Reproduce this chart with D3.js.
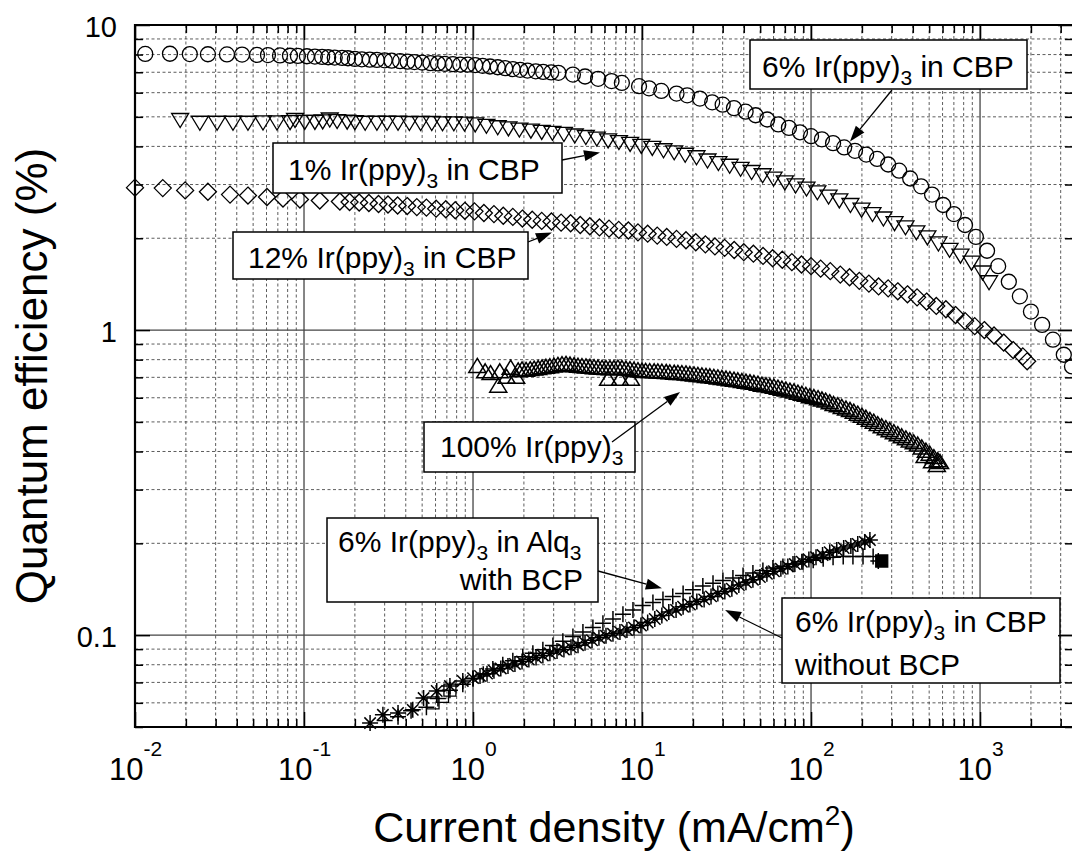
<!DOCTYPE html>
<html><head><meta charset="utf-8">
<script src="https://cdn.jsdelivr.net/npm/d3@7"></script>
<style>
body{margin:0;background:#fff}
svg{display:block}
text{font-family:"Liberation Sans",Arial,Helvetica,sans-serif;fill:#000;white-space:pre}
</style>
</head><body>
<svg id="c" width="1072" height="854"></svg>
<script>
// ---------- tick labels ----------
const xExponents = ["-2", "-1", "0", "1", "2", "3"];
const xMajorValues = [0.01, 0.1, 1, 10, 100, 1000];
const yTickValues = [0.1, 1, 10];
const yTickLabels = ["0.1", "1", "10"];
const xTitle = "Current density (mA/cm";
const yTitle = "Quantum efficiency (%)";

// ---------- series: [current density mA/cm2, quantum efficiency %] ----------
const cbp6 = [
 [0.0115,8.04],[0.0161,8.05],[0.0211,8.03],[0.027,8.02],[0.035,8.01],[0.043,8.0],[0.0527,7.98],[0.0612,7.97],
 [0.0721,7.95],[0.0826,7.93],[0.092,7.92],[0.104,7.9],[0.116,7.88],[0.128,7.86],[0.139,7.84],[0.152,7.82],
 [0.168,7.8],[0.182,7.78],[0.2,7.74],
 [0.22,7.72],[0.245,7.70],[0.27,7.68],[0.30,7.66],[0.33,7.64],[0.37,7.61],[0.41,7.58],[0.45,7.56],[0.50,7.53],
 [0.56,7.50],[0.62,7.48],[0.68,7.46],[0.76,7.44],[0.84,7.42],[0.93,7.41],[1.03,7.39],[1.14,7.35],[1.26,7.31],
 [1.40,7.27],[1.55,7.22],[1.72,7.17],[1.90,7.13],[2.1,7.09],[2.35,7.05],[2.6,7.02],[2.9,6.99],[3.2,6.97],
 [3.9,6.88],[4.6,6.78],[5.5,6.66],[6.6,6.55],[7.6,6.46],[9.6,6.30],[11,6.20],[13,6.08],[16,5.96],[18.5,5.88],[22,5.74],
 [26,5.58],[30,5.48],[35,5.34],[41,5.20],[47,5.06],[55,4.90],[64,4.72],[74,4.60],[86,4.45],[100,4.32],[116,4.22],
 [135,4.10],[157,3.97],[182,3.87],[212,3.76],[246,3.64],[286,3.49],[332,3.33],[386,3.14],[448,2.96],[520,2.78],
 [605,2.57],[700,2.40],[815,2.21],[945,2.02],[1100,1.82],[1280,1.62],[1480,1.44],[1720,1.29],[2000,1.15],
 [2330,1.04],[2700,0.93],[3130,0.83],[3500,0.76]
];
const cbp1 = [
 [0.0185,4.90],[0.0242,4.80],[0.0306,4.80],[0.038,4.80],[0.0466,4.80],[0.0572,4.81],[0.0692,4.81],[0.0827,4.82],
 [0.0885,4.90],[0.101,4.83],[0.116,4.83],[0.129,4.85],[0.142,4.92],[0.157,4.86],[0.18,4.84],[0.2,4.82],
 [0.23,4.80],[0.27,4.80],[0.31,4.80],[0.36,4.80],[0.42,4.79],[0.49,4.79],[0.57,4.79],[0.66,4.78],[0.77,4.78],
 [0.89,4.77],[1.03,4.74],[1.2,4.69],[1.4,4.64],[1.62,4.60],[1.88,4.56],[2.2,4.52],[2.55,4.48],[2.95,4.45],
 [3.45,4.41],[4.0,4.36],[4.65,4.31],[5.4,4.26],[6.3,4.20],[7.3,4.15],[8.5,4.09],[9.9,4.03],[11.5,3.97],
 [13.4,3.90],[15.5,3.84],[18,3.77],[21,3.70],[24.4,3.61],[28.3,3.54],[33,3.47],[38.3,3.39],[44.5,3.31],
 [51.7,3.23],[60,3.15],[70,3.06],[81,2.99],[94,2.92],[109,2.84],[127,2.75],[147,2.67],[171,2.58],[199,2.49],
 [231,2.41],[268,2.33],[312,2.25],[362,2.18],[420,2.10],[488,2.02],[567,1.93],[660,1.84],[766,1.76],
 [890,1.67],[1035,1.55],[1130,1.44]
];
const cbp12 = [
 [0.0100,2.93],[0.0146,2.92],[0.0198,2.87],[0.027,2.84],[0.0365,2.78],[0.0466,2.76],[0.0604,2.73],[0.0751,2.70],
 [0.0946,2.68],[0.124,2.66],[0.163,2.64],
 [0.186,2.63],[0.212,2.62],[0.242,2.61],[0.276,2.59],[0.314,2.58],[0.358,2.56],[0.408,2.55],[0.465,2.53],
 [0.53,2.52],[0.605,2.50],[0.69,2.49],[0.785,2.47],[0.895,2.46],[1.02,2.45],[1.16,2.42],[1.33,2.40],[1.51,2.37],
 [1.72,2.35],[1.96,2.32],[2.24,2.30],[2.55,2.28],[2.91,2.27],[3.32,2.25],[3.78,2.24],[4.31,2.21],[4.91,2.19],
 [5.6,2.17],[6.38,2.15],[7.28,2.13],[8.3,2.12],[9.46,2.09],[10.8,2.07],[12.3,2.04],[14.0,2.02],[16.0,1.99],
 [18.2,1.97],[20.8,1.94],[23.7,1.91],[27.0,1.88],[30.8,1.86],[35.1,1.83],[40.0,1.80],[45.6,1.78],[52.0,1.75],
 [59.3,1.72],[67.6,1.70],[77.0,1.67],[87.8,1.64],[100,1.62],[114,1.59],[130,1.56],[149,1.52],[169,1.49],
 [193,1.45],[220,1.42],[251,1.39],[286,1.37],[326,1.34],[372,1.31],[424,1.28],[483,1.24],[551,1.20],
 [628,1.17],[716,1.12],[816,1.07],[930,1.03],[1060,1.00],[1210,0.96],[1380,0.91],[1570,0.86],[1790,0.82],[1900,0.79]
];
const neat100 = [
 [1.06,0.76],[1.18,0.73],[1.27,0.72],[1.41,0.655],[1.44,0.73],[1.58,0.70],[1.67,0.75],[1.80,0.70],
 [1.85,0.735],[1.95,0.74],[2.06,0.738],[2.18,0.742],[2.30,0.745],[2.43,0.748],[2.56,0.752],[2.70,0.755],
 [2.85,0.758],[3.01,0.762],[3.18,0.766],[3.36,0.770],[3.55,0.772],[3.75,0.768],[3.96,0.764],[4.18,0.761],
 [4.41,0.759],[4.66,0.757],[4.92,0.755],[5.20,0.753],[5.49,0.751],[5.80,0.749],[6.12,0.748],[6.46,0.747],
 [6.82,0.748],[7.20,0.750],[7.61,0.748],[8.03,0.745],[8.48,0.742],[8.96,0.739],[9.46,0.736],[9.99,0.733],
 [10.5,0.732],[11.1,0.731],[11.8,0.730],[12.4,0.729],[13.1,0.728],[13.9,0.726],[14.6,0.724],[15.5,0.722],
 [16.3,0.721],[17.2,0.720],[18.2,0.718],[19.2,0.715],[20.3,0.713],[21.4,0.710],[22.6,0.708],[23.9,0.705],
 [25.2,0.703],[26.6,0.700],[28.1,0.697],[29.7,0.694],[31.4,0.691],[33.1,0.688],[35.0,0.685],[36.9,0.682],
 [39.0,0.678],[41.2,0.675],[43.5,0.672],[45.9,0.669],[48.5,0.665],[51.2,0.660],[54.1,0.657],[57.1,0.653],
 [60.3,0.650],[63.7,0.645],[67.2,0.640],[71.0,0.636],[75.0,0.631],[79.2,0.627],[83.6,0.621],[88.3,0.616],
 [93.2,0.611],[98.4,0.605],[104,0.601],[110,0.596],[116,0.590],[122,0.585],[129,0.578],[136,0.570],
 [144,0.565],[152,0.558],[161,0.551],[170,0.545],[179,0.538],[189,0.530],[200,0.522],[211,0.514],
 [223,0.506],[235,0.499],[248,0.490],[262,0.482],[277,0.475],[292,0.468],[309,0.461],[326,0.454],
 [344,0.447],[364,0.440],[384,0.433],[405,0.427],[428,0.420],[452,0.411],[478,0.401],[504,0.392],
 [533,0.382],[562,0.373],[580,0.368],
 [6.3,0.69],[7.4,0.69],[8.6,0.69],[470,0.385],[520,0.37],[555,0.36]
];
const cbpNoBcp = [
 [0.246,0.0515],[0.293,0.0548],[0.36,0.0556],[0.44,0.0569],[0.51,0.0622],[0.61,0.0656],[0.73,0.0681],
 [0.87,0.0708],[1.0,0.0723],[1.10,0.0735],[1.21,0.0748],[1.33,0.0765],[1.46,0.0778],[1.61,0.0792],
 [1.77,0.0805],[1.95,0.0820],[2.14,0.0832],[2.36,0.0845],[2.59,0.0858],[2.85,0.0872],[3.14,0.0887],
 [3.45,0.0898],[3.80,0.0912],[4.18,0.0927],[4.60,0.0945],[5.06,0.0962],[5.56,0.0980],[6.12,0.0995],
 [6.73,0.101],[7.40,0.1025],[8.14,0.104],[8.96,0.106],[9.85,0.1075],[10.8,0.110],[11.9,0.113],[13.1,0.116],
 [14.4,0.119],[15.9,0.121],[17.5,0.124],[19.2,0.126],[21.1,0.129],[23.3,0.131],[25.6,0.134],[28.1,0.137],
 [30.9,0.139],[34.0,0.142],[37.4,0.146],[41.2,0.149],[45.3,0.152],[49.8,0.155],[54.8,0.159],[60.3,0.162],
 [66.3,0.165],[72.9,0.168],[80.2,0.171],[88.2,0.174],[97.1,0.177],[107,0.180],[117,0.183],[129,0.187],
 [142,0.190],[156,0.193],[172,0.196],[189,0.199],[208,0.202],[223,0.205]
];
const alq3Bcp = [
 [0.30,0.0525],[0.36,0.054],[0.43,0.0565],[0.53,0.058],[0.62,0.062],[0.73,0.066],[0.87,0.069],[1.0,0.072],
 [1.15,0.0745],[1.31,0.0775],[1.5,0.0800],[1.72,0.0825],[1.97,0.085],[2.26,0.0872],[2.59,0.0895],[2.97,0.0925],
 [3.40,0.0955],[3.90,0.0990],[4.47,0.1025],[5.12,0.106],[5.87,0.1095],[6.73,0.113],[7.71,0.117],[8.84,0.121],
 [10.1,0.125],[11.6,0.128],[13.3,0.131],[15.2,0.134],[17.5,0.137],[20.0,0.141],[22.9,0.145],[26.3,0.148],
 [30.1,0.151],[34.5,0.154],[39.6,0.157],[45.3,0.160],[51.9,0.163],[59.5,0.166],[68.2,0.168],[78.2,0.171],
 [89.6,0.174],[103,0.176],[118,0.178],[135,0.180],[155,0.181],[177,0.181],[203,0.181],[233,0.181],[250,0.175]
];
const alq3Squares = [[0.58,0.060],[0.66,0.063],[0.73,0.066]];
const alq3End = [[262,0.175]];

// ---------- annotations (arrow tips in data units) ----------
const notes = [
 {lines:[["6% Ir(ppy)","3"," in CBP"]], box:[750,40,277,49], text:[[762,77,"start"]], from:[892,90], tip:[170,4.15]},
 {lines:[["1% Ir(ppy)","3"," in CBP"]], box:[273,143,289,50], text:[[288,180,"start"]], from:[562,160], tip:[5.64,3.82]},
 {lines:[["12% Ir(ppy)","3"," in CBP"]], box:[233,232,295,47], text:[[248,268,"start"]], from:[528,242], tip:[2.93,2.09]},
 {lines:[["100% Ir(ppy)","3",""]], box:[424,422,211,50], text:[[440,457,"start"]], from:[612,442], tip:[16.8,0.627]},
 {lines:[["6% Ir(ppy)","3"," in Alq","3"],["with BCP"]], box:[327,518,271,84], text:[[338,552,"start"],[583,590,"end"]], from:[598,571], tip:[13.1,0.1425]},
 {lines:[["6% Ir(ppy)","3"," in CBP"],["without BCP"]], box:[782,598,278,85], text:[[795,632,"start"],[795,675,"start"]], from:[782,638], tip:[31,0.121]}
];

// ---------- scales ----------
const svg = d3.select("#c");
const L = 135, R = 1073, T = 25, B = 727;
const x = d3.scaleLog().domain([0.01, 3548]).range([L, R]);
const y = d3.scaleLog().domain([0.05, 10]).range([B, T]);

const xMinor = [], yMinor = [];
for (let d = -2; d <= 3; d++) for (let m = 2; m <= 9; m++) { const v = m * Math.pow(10, d); if (v < 3548) xMinor.push(v); }
for (let d = -2; d <= 0; d++) for (let m = 2; m <= 9; m++) { const v = m * Math.pow(10, d); if (v >= 0.05 && v < 10) yMinor.push(v); }
const xMajorGrid = xMajorValues.slice(1), yMajorGrid = [0.1, 1];

// ---------- grid ----------
const grid = svg.append("g");
grid.selectAll(".vx").data(xMinor).join("line")
  .attr("x1", d => x(d)).attr("x2", d => x(d)).attr("y1", T).attr("y2", B)
  .attr("stroke", "#333").attr("stroke-width", 0.8).attr("stroke-dasharray", "3,2.5");
grid.selectAll(".hy").data(yMinor).join("line")
  .attr("y1", d => y(d)).attr("y2", d => y(d)).attr("x1", L).attr("x2", R)
  .attr("stroke", "#333").attr("stroke-width", 0.8).attr("stroke-dasharray", "3,2.5");
grid.selectAll(".vX").data(xMajorGrid).join("line")
  .attr("x1", d => x(d)).attr("x2", d => x(d)).attr("y1", T).attr("y2", B)
  .attr("stroke", "#444").attr("stroke-width", 1.3);
grid.selectAll(".hY").data(yMajorGrid).join("line")
  .attr("y1", d => y(d)).attr("y2", d => y(d)).attr("x1", L).attr("x2", R)
  .attr("stroke", "#444").attr("stroke-width", 1.3);

// ---------- markers ----------
const shapes = {
  circle: "M7.5,0A7.5,7.5 0 1 1 -7.5,0A7.5,7.5 0 1 1 7.5,0Z",
  tdown: "M-8.5,-6L8.5,-6L0,8Z",
  tup: "M0,-8L8.5,6L-8.5,6Z",
  diamond: "M0,-8.5L8.5,0L0,8.5L-8.5,0Z",
  star: "M-8,0H8M0,-8V8M-5.7,-5.7L5.7,5.7M-5.7,5.7L5.7,-5.7",
  plus: "M-8,0H8M0,-8V8",
  square: "M-6,-6H6V6H-6Z"
};
function plot(data, shape, fill, sw) {
  svg.append("g").selectAll("path").data(data).join("path")
    .attr("transform", d => `translate(${x(d[0])},${y(d[1])})`)
    .attr("d", shapes[shape])
    .attr("fill", fill || "none").attr("stroke", "#000").attr("stroke-width", sw || 1.3);
}
plot(cbp6, "circle");
plot(cbp1, "tdown");
plot(cbp12, "diamond");
plot(neat100, "tup", null, 1.5);
plot(alq3Bcp, "plus", null, 1.5);
plot(alq3Squares, "square");
plot(cbpNoBcp, "star", null, 1.5);
plot(alq3End, "square", "#000");

// ---------- annotations ----------
const ann = svg.append("g");
notes.forEach(n => {
  ann.append("rect").attr("x", n.box[0]).attr("y", n.box[1]).attr("width", n.box[2]).attr("height", n.box[3])
    .attr("fill", "#fff").attr("stroke", "#000").attr("stroke-width", 1.5);
  n.lines.forEach((ln, i) => {
    const [tx, ty, anchor] = n.text[i];
    const t = ann.append("text").attr("x", tx).attr("y", ty).attr("text-anchor", anchor).attr("font-size", 30);
    ln.forEach((s, j) => {
      const sub = j % 2 === 1;
      const sp = t.append("tspan").text(s);
      if (sub) sp.attr("font-size", 21).attr("dy", 8);
      else if (j > 0) sp.attr("dy", -8);
    });
  });
  const x1 = n.from[0], y1 = n.from[1], x2 = x(n.tip[0]), y2 = y(n.tip[1]);
  const a = Math.atan2(y2 - y1, x2 - x1), hl = 16, hw = 5.5;
  const bx = x2 - hl * Math.cos(a), by = y2 - hl * Math.sin(a);
  ann.append("line").attr("x1", x1).attr("y1", y1).attr("x2", bx).attr("y2", by).attr("stroke", "#000").attr("stroke-width", 1.3);
  ann.append("path").attr("d", `M${x2},${y2}L${bx - hw * Math.sin(a)},${by + hw * Math.cos(a)}L${bx + hw * Math.sin(a)},${by - hw * Math.cos(a)}Z`).attr("fill", "#000");
});

// ---------- axes ----------
function styleAxis(g) { g.select(".domain").remove(); g.selectAll(".tick line").attr("stroke", "#000").attr("stroke-width", 1.5); }
svg.append("g").attr("transform", `translate(0,${B})`).call(d3.axisBottom(x).tickValues(xMinor).tickSize(-8).tickFormat("")).call(styleAxis);
svg.append("g").attr("transform", `translate(0,${T})`).call(d3.axisTop(x).tickValues(xMinor).tickSize(-8).tickFormat("")).call(styleAxis);
svg.append("g").attr("transform", `translate(${L},0)`).call(d3.axisLeft(y).tickValues(yMinor).tickSize(-8).tickFormat("")).call(styleAxis);
svg.append("g").attr("transform", `translate(${R},0)`).call(d3.axisRight(y).tickValues(yMinor).tickSize(-8).tickFormat("")).call(styleAxis);
svg.append("g").attr("transform", `translate(0,${T})`).call(d3.axisTop(x).tickValues(xMajorValues).tickSize(-15).tickFormat("")).call(styleAxis);
svg.append("g").attr("transform", `translate(${R},0)`).call(d3.axisRight(y).tickValues(yTickValues).tickSize(-15).tickFormat("")).call(styleAxis);

const gx = svg.append("g").attr("transform", `translate(0,${B})`)
  .call(d3.axisBottom(x).tickValues(xMajorValues).tickSize(-15).tickPadding(53).tickFormat(""))
  .call(styleAxis);
gx.selectAll(".tick text").each(function(d, i) {
  const t = d3.select(this).attr("dy", null).attr("font-size", 31).attr("font-family", "Liberation Sans, Arial, sans-serif");
  t.append("tspan").text("10");
  t.append("tspan").attr("dy", -24).attr("font-size", 21).text(xExponents[i]);
});
const gy = svg.append("g").attr("transform", `translate(${L},0)`)
  .call(d3.axisLeft(y).tickValues(yTickValues).tickSize(-15).tickPadding(18).tickFormat((d, i) => yTickLabels[i]))
  .call(styleAxis);
gy.selectAll(".tick text").attr("dy", "0.38em").attr("font-size", 29).attr("font-family", "Liberation Sans, Arial, sans-serif");

// frame
svg.append("path").attr("d", `M${R},${T}H${L}V${B}H${R}`).attr("fill", "none").attr("stroke", "#000").attr("stroke-width", 2.2);
svg.append("line").attr("x1", R).attr("x2", R).attr("y1", T).attr("y2", B).attr("stroke", "#000").attr("stroke-width", 2);

// titles
const xt = svg.append("text").attr("x", 614).attr("y", 842).attr("text-anchor", "middle").attr("font-size", 43);
xt.append("tspan").text(xTitle);
xt.append("tspan").attr("dy", -17).attr("font-size", 28).text("2");
xt.append("tspan").attr("dy", 17).text(")");
svg.append("text").attr("transform", "translate(47,376) rotate(-90)").attr("text-anchor", "middle").attr("font-size", 44).text(yTitle);
</script>
</body></html>
